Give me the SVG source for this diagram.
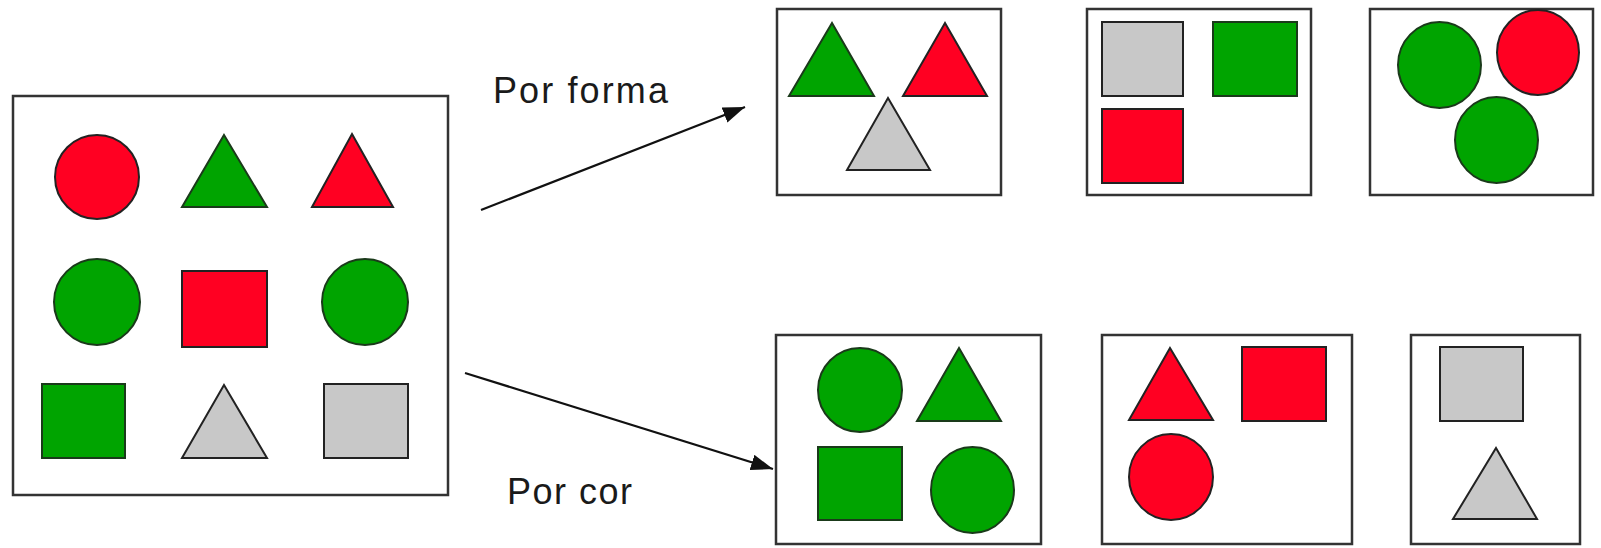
<svg xmlns="http://www.w3.org/2000/svg" width="1601" height="548" viewBox="0 0 1601 548">
<style>
.box{fill:#fff;stroke:#333;stroke-width:2.5}
.r{fill:#ff0022;stroke:#222;stroke-width:2}
.g{fill:#00a400;stroke:#1a3a1a;stroke-width:2}
.y{fill:#c8c8c8;stroke:#222;stroke-width:2}
.lbl{font-family:"Liberation Sans",Arial,sans-serif;font-size:36px;fill:#1a1a1a}
.con{stroke:#111;stroke-width:2.2;fill:none}
</style>
<defs>
<marker id="ah" markerUnits="userSpaceOnUse" markerWidth="24" markerHeight="18" refX="22" refY="8" orient="auto">
<path d="M0,0 L22,8 L0,16 z" fill="#111"/>
</marker>
</defs>
<rect width="1601" height="548" fill="#fff"/>

<g id="source">
<rect class="box" x="13" y="96" width="435" height="399"/>
<circle class="r" cx="97" cy="177" r="42"/>
<polygon class="g" points="224,135 267,207 182,207"/>
<polygon class="r" points="352,134 393,207 312,207"/>
<circle class="g" cx="97" cy="302" r="43"/>
<rect class="r" x="182" y="271" width="85" height="76"/>
<circle class="g" cx="365" cy="302" r="43"/>
<rect class="g" x="42" y="384" width="83" height="74"/>
<polygon class="y" points="224,385 267,458 182,458"/>
<rect class="y" x="324" y="384" width="84" height="74"/>
</g>

<g id="forma-triangles">
<rect class="box" x="777" y="9" width="224" height="186"/>
<polygon class="g" points="832,23 874,96 789,96"/>
<polygon class="r" points="945,23 987,96 903,96"/>
<polygon class="y" points="888,98 930,170 847,170"/>
</g>

<g id="forma-squares">
<rect class="box" x="1087" y="9" width="224" height="186"/>
<rect class="y" x="1102" y="22" width="81" height="74"/>
<rect class="g" x="1213" y="22" width="84" height="74"/>
<rect class="r" x="1102" y="109" width="81" height="74"/>
</g>

<g id="forma-circles">
<rect class="box" x="1370" y="9" width="223" height="186"/>
<ellipse class="g" cx="1439.5" cy="65" rx="41.5" ry="43"/>
<ellipse class="r" cx="1538" cy="52.5" rx="41" ry="42.5"/>
<ellipse class="g" cx="1496.5" cy="140" rx="41.5" ry="43"/>
</g>

<g id="cor-green">
<rect class="box" x="776" y="335" width="265" height="209"/>
<circle class="g" cx="860" cy="390" r="42"/>
<polygon class="g" points="959,348 1001,421 917,421"/>
<rect class="g" x="818" y="447" width="84" height="73"/>
<ellipse class="g" cx="972.5" cy="490" rx="41.5" ry="43"/>
</g>

<g id="cor-red">
<rect class="box" x="1102" y="335" width="250" height="209"/>
<polygon class="r" points="1170,348 1213,420 1129,420"/>
<rect class="r" x="1242" y="347" width="84" height="74"/>
<ellipse class="r" cx="1171" cy="477" rx="42" ry="43"/>
</g>

<g id="cor-gray">
<rect class="box" x="1411" y="335" width="169" height="209"/>
<rect class="y" x="1440" y="347" width="83" height="74"/>
<polygon class="y" points="1496,448 1537,519 1453,519"/>
</g>

<g id="connectors">
<line class="con" x1="481" y1="210" x2="745" y2="107" marker-end="url(#ah)"/>
<line class="con" x1="465" y1="373" x2="773" y2="469" marker-end="url(#ah)"/>
</g>

<g id="labels">
<text class="lbl" x="493" y="103" textLength="175">Por forma</text>
<text class="lbl" x="507" y="504" textLength="125">Por cor</text>
</g>
</svg>
